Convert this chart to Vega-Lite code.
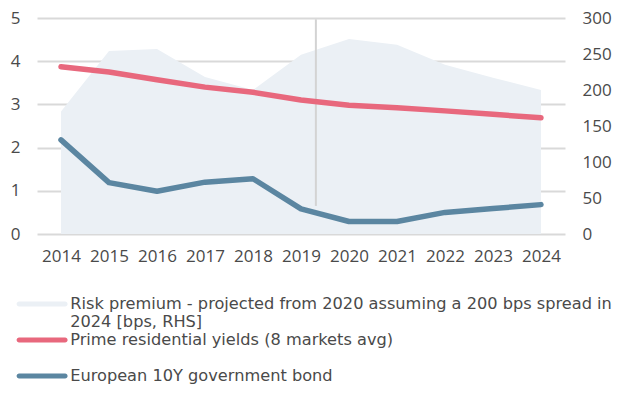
{
  "$schema": "https://vega.github.io/schema/vega-lite/v6.json",
  "autosize": "none",
  "width": 528,
  "height": 216,
  "padding": {"left": 37, "top": 18, "right": 68, "bottom": 159},
  "config": {
    "view": {"stroke": null},
    "font": "Open Sans",
    "axis": {"labelFont": "Open Sans", "labelFontSize": 17, "labelColor": "#4a4a4a", "domain": false, "ticks": false, "title": null},
    "legend": {"labelFont": "DejaVu Sans", "labelFontSize": 16.2, "labelColor": "#4a4a4a"}
  },
  "datasets": {
    "series": [
      {"year": 2014, "risk": 170, "prime": 3.87, "bond": 2.18},
      {"year": 2015, "risk": 254, "prime": 3.75, "bond": 1.19},
      {"year": 2016, "risk": 257, "prime": 3.57, "bond": 0.99},
      {"year": 2017, "risk": 218, "prime": 3.4, "bond": 1.2},
      {"year": 2018, "risk": 200, "prime": 3.28, "bond": 1.28},
      {"year": 2019, "risk": 249, "prime": 3.1, "bond": 0.58},
      {"year": 2020, "risk": 271, "prime": 2.98, "bond": 0.29},
      {"year": 2021, "risk": 263, "prime": 2.92, "bond": 0.29},
      {"year": 2022, "risk": 235, "prime": 2.85, "bond": 0.5},
      {"year": 2023, "risk": 217, "prime": 2.77, "bond": 0.59},
      {"year": 2024, "risk": 200, "prime": 2.69, "bond": 0.68}
    ],
    "divider": [{"year": 2019.31, "low": 0.65, "high": 4.97}]
  },
  "data": {"name": "series"},
  "encoding": {
    "x": {
      "field": "year", "type": "quantitative",
      "scale": {"domain": [2013.5, 2024.5], "nice": false, "zero": false},
      "axis": {"values": [2014, 2015, 2016, 2017, 2018, 2019, 2020, 2021, 2022, 2023, 2024], "format": "d", "grid": false, "labelPadding": 14, "labelFlush": false}
    }
  },
  "layer": [
    {
      "mark": {"type": "area", "opacity": 1},
      "encoding": {
        "y": {"field": "risk", "type": "quantitative", "scale": {"domain": [0, 300], "nice": false},
              "axis": {"orient": "right", "values": [0, 50, 100, 150, 200, 250, 300], "grid": false, "labelPadding": 17}},
        "color": {
          "datum": "Risk premium - projected from 2020 assuming a 200 bps spread in 2024 [bps, RHS]",
          "scale": {
            "domain": [
              "Risk premium - projected from 2020 assuming a 200 bps spread in 2024 [bps, RHS]",
              "Prime residential yields (8 markets avg)",
              "European 10Y government bond"
            ],
            "range": ["#ebf0f5", "#e8687d", "#5b86a1"]
          },
          "legend": {
            "title": null,
            "orient": "none",
            "legendX": -3,
            "legendY": 278,
            "direction": "vertical",
            "padding": 0,
            "rowPadding": 1,
            "symbolSize": 100,
            "symbolType": "M-4.6,-0.5L4.6,-0.5A0.5,0.5 0 0 1 4.6,0.5L-4.6,0.5A0.5,0.5 0 0 1 -4.6,-0.5Z",
            "symbolStrokeWidth": 0,
            "labelOffset": 20,
            "labelLimit": 800,
            "labelLineHeight": 19,
            "labelExpr": "indexof(datum.label, 'Risk') == 0 ? ['Risk premium - projected from 2020 assuming a 200 bps spread in', '2024 [bps, RHS]'] : [datum.label, '']",
            "encode": {
              "symbols": {
                "shape": {"value": {"expr": "indexof(datum.label, 'Risk') == 0 ? 'M-4.85,-0.9L4.85,-0.9L4.85,0.9L-4.85,0.9Z' : 'M-4.6,-0.5L4.6,-0.5A0.5,0.5 0 0 1 4.6,0.5L-4.6,0.5A0.5,0.5 0 0 1 -4.6,-0.5Z'"}},
                "strokeWidth": {"value": 0},
                "opacity": {"value": 1}
              }
            }
          }
        }
      }
    },
    {
      "layer": [
        {
          "data": {"name": "divider"},
          "mark": {"type": "rule", "color": "#d3d3d3", "strokeWidth": 2},
          "encoding": {
            "x": {"field": "year", "type": "quantitative"},
            "y": {"field": "low", "type": "quantitative"},
            "y2": {"field": "high"}
          }
        },
        {
          "mark": {"type": "line", "strokeWidth": 5.5, "strokeCap": "round", "strokeJoin": "round"},
          "encoding": {
            "y": {"field": "prime", "type": "quantitative", "scale": {"domain": [0, 5], "nice": false},
                  "axis": {"orient": "left", "values": [0, 1, 2, 3, 4, 5], "grid": true, "gridColor": "#d9d9d9", "gridWidth": 2, "labelPadding": 17}},
            "color": {"datum": "Prime residential yields (8 markets avg)"}
          }
        },
        {
          "mark": {"type": "line", "strokeWidth": 5.5, "strokeCap": "round", "strokeJoin": "round"},
          "encoding": {
            "y": {"field": "bond", "type": "quantitative"},
            "color": {"datum": "European 10Y government bond"}
          }
        }
      ]
    }
  ],
  "resolve": {"scale": {"y": "independent"}}
}
